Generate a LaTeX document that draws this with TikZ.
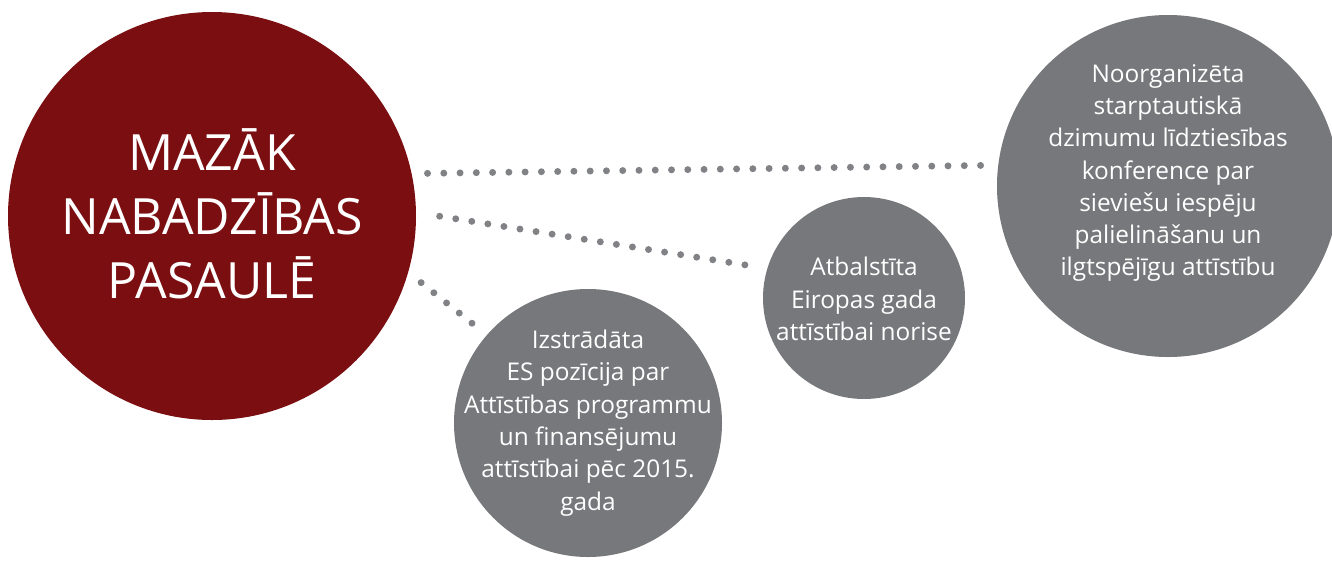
\documentclass[tikz,border=0pt]{standalone}
\usepackage{fontspec}
\setmainfont{Open Sans}
\definecolor{sarkans}{HTML}{7A0E11}
\definecolor{pelekas}{HTML}{77787B}
\definecolor{punkti}{HTML}{808285}
\begin{document}
\begin{tikzpicture}[x=0.75pt,y=-0.75pt,
    aplis/.style={circle,inner sep=0pt,outer sep=0pt,fill=pelekas},
    teksts/.style={text=white,align=center,font=\fontsize{18.3}{24.2}\selectfont},
    punktlinija/.style={draw=punkti,line width=5.2pt,line cap=round,dash pattern=on 0pt off 12.2pt}]
\useasboundingbox (0,0) rectangle (1332,562);
\node[aplis,fill=sarkans,minimum size=306pt] (mazak) at (212,216) {};
\node[teksts,font=\fontsize{37.5}{48}\selectfont] (mazak-t) at (212,214) {MAZĀK\\NABADZĪBAS\\PASAULĒ};
\node[aplis,minimum size=201pt] (pozicija) at (588,423) {};
\node[teksts] (pozicija-t) at (588,423) {Izstrādāta\\ES pozīcija par\\Attīstības programmu\\un finansējumu\\attīstībai pēc 2015.\\gada};
\node[aplis,minimum size=151.5pt] (gads) at (864,298) {};
\node[teksts] (gads-t) at (864,299) {Atbalstīta\\Eiropas gada\\attīstībai norise};
\node[aplis,minimum size=256.5pt] (konf) at (1168,186) {};
\node[teksts] (konf-t) at (1168,173) {Noorganizēta\\starptautiskā\\dzimumu līdztiesības\\konference par\\sieviešu iespēju\\palielināšanu un\\ilgtspējīgu attīstību};
\draw[punktlinija,shorten <=12pt,shorten >=7pt] (mazak.12) -- (konf.173);
\draw[punktlinija,shorten <=18pt,shorten >=10pt] (mazak.1) -- (gads.163);
\draw[punktlinija,shorten <=12.5pt,shorten >=11.5pt] (mazak.-16) -- (pozicija.139);
\end{tikzpicture}
\end{document}
